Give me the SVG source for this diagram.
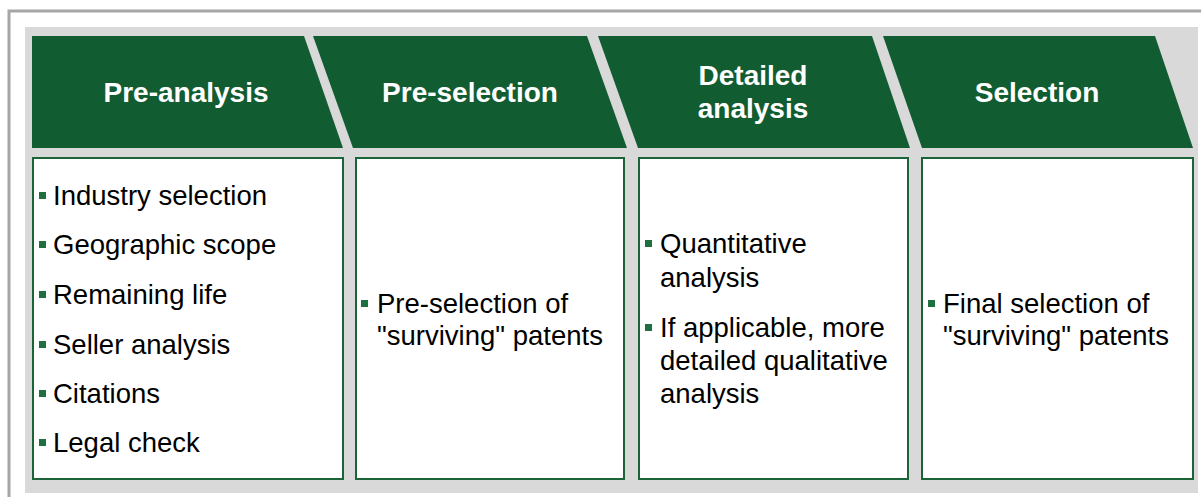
<svg xmlns="http://www.w3.org/2000/svg" width="1201" height="497" viewBox="0 0 1201 497">
<style>
.hdr{fill:#125C32}
.hdt{font-family:"Liberation Sans",Arial,sans-serif;font-weight:bold;font-size:28px;fill:#FFFFFF;text-anchor:middle}
.box{fill:#FFFFFF;stroke:#1B6437;stroke-width:2}
.bt{font-family:"Liberation Sans",Arial,sans-serif;font-size:27.5px;fill:#000000}
.bul{fill:#1E7040}
</style>
<rect x="0" y="0" width="1201" height="497" fill="#FFFFFF"/>
<rect x="9" y="11" width="1200" height="500" fill="#FFFFFF" stroke="#A6A6A6" stroke-width="3"/>
<rect x="25" y="27" width="1173" height="466" fill="#D9D9D9"/>

<g id="col1">
<polygon class="hdr" points="32,36 304,36 343,148 32,148"/>
<text class="hdt" x="186" y="102">Pre-analysis</text>
<rect class="box" x="33" y="158" width="310" height="321"/>
<rect class="bul" x="39" y="192" width="7" height="7"/>
<text class="bt" x="53" y="205">Industry selection</text>
<rect class="bul" x="39" y="241" width="7" height="7"/>
<text class="bt" x="53" y="254">Geographic scope</text>
<rect class="bul" x="39" y="291" width="7" height="7"/>
<text class="bt" x="53" y="304">Remaining life</text>
<rect class="bul" x="39" y="341" width="7" height="7"/>
<text class="bt" x="53" y="354">Seller analysis</text>
<rect class="bul" x="39" y="390" width="7" height="7"/>
<text class="bt" x="53" y="403">Citations</text>
<rect class="bul" x="39" y="439" width="7" height="7"/>
<text class="bt" x="53" y="452">Legal check</text>
</g>

<g id="col2">
<polygon class="hdr" points="313,36 587,36 627,148 353,148"/>
<text class="hdt" x="470" y="102">Pre-selection</text>
<rect class="box" x="356" y="158" width="268" height="321"/>
<rect class="bul" x="361" y="300" width="7" height="7"/>
<text class="bt" x="377" y="313">Pre-selection of</text>
<text class="bt" x="377" y="345">"surviving" patents</text>
</g>

<g id="col3">
<polygon class="hdr" points="598,36 872,36 910,148 638,148"/>
<text class="hdt" x="753" y="85">Detailed</text>
<text class="hdt" x="753" y="118">analysis</text>
<rect class="box" x="639" y="158" width="269" height="321"/>
<rect class="bul" x="645" y="240" width="7" height="7"/>
<text class="bt" x="660" y="253">Quantitative</text>
<text class="bt" x="660" y="287">analysis</text>
<rect class="bul" x="645" y="324" width="7" height="7"/>
<text class="bt" x="660" y="337">If applicable, more</text>
<text class="bt" x="660" y="370">detailed qualitative</text>
<text class="bt" x="660" y="403">analysis</text>
</g>

<g id="col4">
<polygon class="hdr" points="883,36 1155,36 1193,148 922,148"/>
<text class="hdt" x="1037" y="102">Selection</text>
<rect class="box" x="922" y="158" width="271" height="321"/>
<rect class="bul" x="928" y="300" width="7" height="7"/>
<text class="bt" x="943" y="313">Final selection of</text>
<text class="bt" x="943" y="345">"surviving" patents</text>
</g>

<g id="connectors"></g>
</svg>
